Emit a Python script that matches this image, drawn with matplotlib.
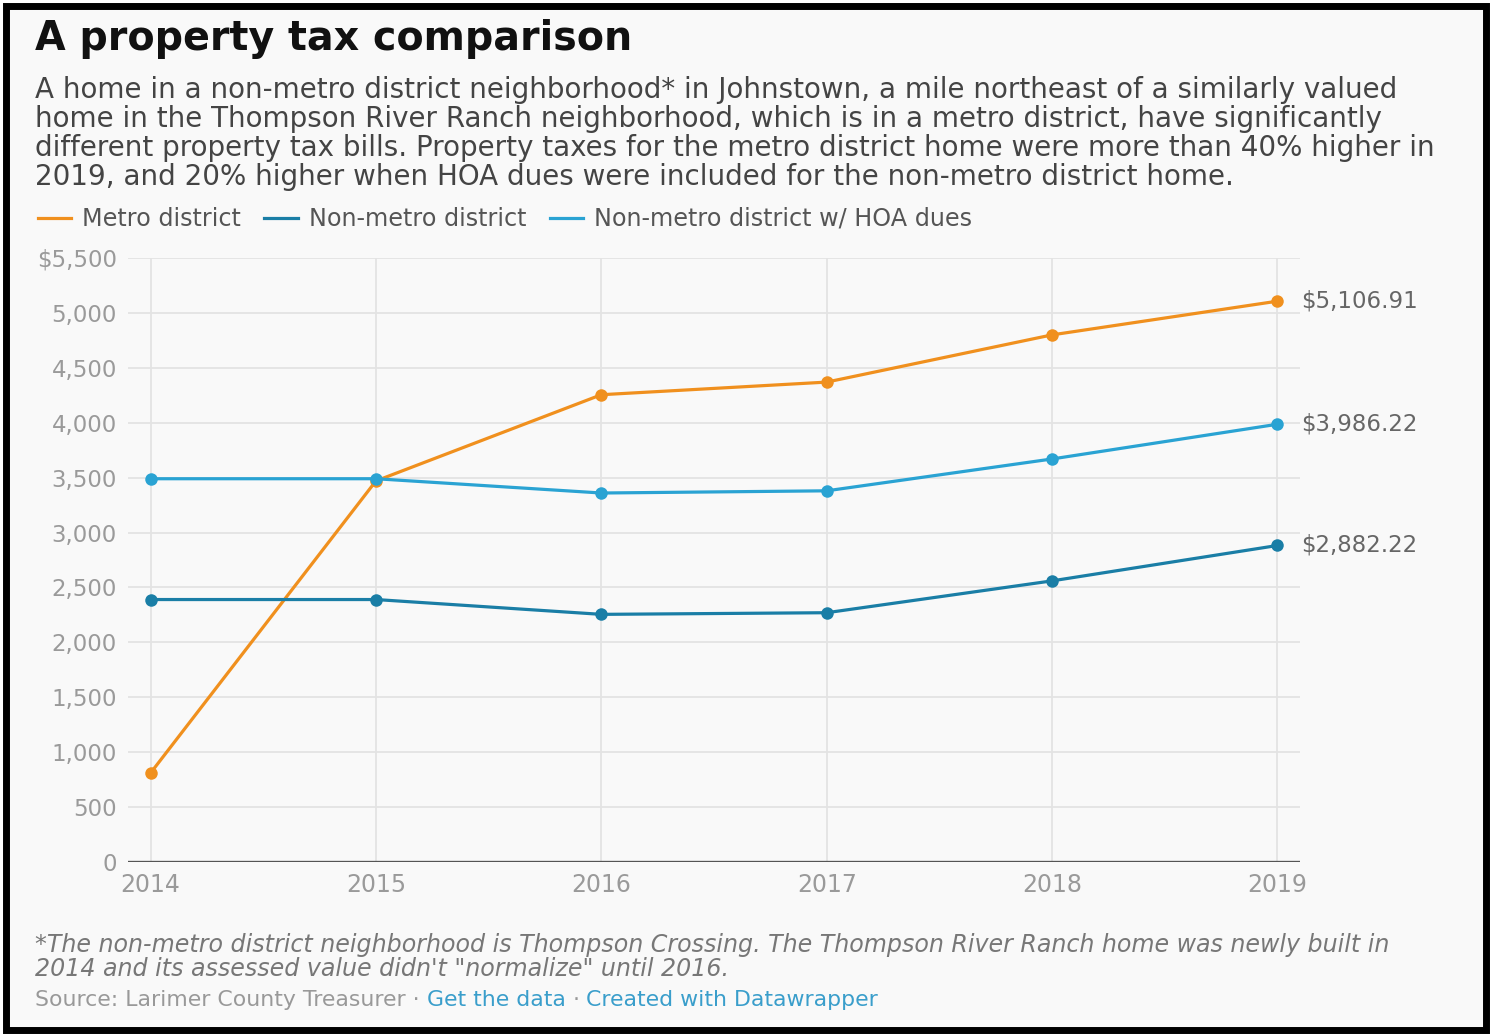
import matplotlib.pyplot as plt
import matplotlib.patches as patches
from matplotlib.lines import Line2D
from matplotlib.ticker import FuncFormatter

# Data
years = [2014, 2015, 2016, 2017, 2018, 2019]
metro = [810, 3470, 4255, 4370, 4800, 5106.91]
non_metro = [2390, 2390, 2255, 2270, 2560, 2882.22]
non_metro_hoa = [3490, 3490, 3360, 3380, 3670, 3986.22]
series_names = ["Metro district", "Non-metro district", "Non-metro district w/ HOA dues"]
y_ticks = [0, 500, 1000, 1500, 2000, 2500, 3000, 3500, 4000, 4500, 5000, 5500]

colors = {'metro': '#f0901e', 'non': '#1a7ea6', 'hoa': '#2aa3d3',
          'bg': '#f9f9f9', 'grid': '#e3e3e3', 'tick': '#9a9a9a',
          'text': '#444444', 'link': '#3a9ecb'}
FONT = 'DejaVu Sans'

fig = plt.figure(figsize=(14.92, 10.34), dpi=100, facecolor='white')

# background panel + thick black frame
fig.patches.append(patches.Rectangle((6 / 1492, 4 / 1034), 1480 / 1492, 1024 / 1034,
                                     transform=fig.transFigure, facecolor=colors['bg'],
                                     edgecolor='black', linewidth=5, zorder=-5))

ax = fig.add_axes([128 / 1492, 1 - 862 / 1034, 1172 / 1492, 604 / 1034])
ax.set_facecolor('none')

series = [(metro, colors['metro']), (non_metro, colors['non']), (non_metro_hoa, colors['hoa'])]
for vals, c in series:
    ax.plot(years, vals, color=c, linewidth=2.3, marker='o', markersize=9,
            markeredgewidth=0, zorder=3, clip_on=False)
    ax.text(years[-1] + 0.105, vals[-1], f"${vals[-1]:,.2f}", ha='left', va='center',
            fontsize=16.5, color='#666666', family=FONT)

ax.set_xlim(2013.9, 2019.1)
ax.set_ylim(0, 5500)
ax.set_xticks(years)
ax.set_yticks(y_ticks)
ax.yaxis.set_major_formatter(FuncFormatter(lambda v, p: f"${v:,.0f}" if v == 5500 else f"{v:,.0f}"))
ax.grid(True, color=colors['grid'], linewidth=1.3, zorder=0)
for s in ax.spines.values():
    s.set_visible(False)
ax.axhline(0, color='#555555', linewidth=2.4, zorder=2)
ax.tick_params(axis='x', length=0, labelsize=17, labelcolor=colors['tick'], pad=8)
ax.tick_params(axis='y', length=0, labelsize=16.5, labelcolor=colors['tick'], pad=8)
for lab in ax.get_xticklabels() + ax.get_yticklabels():
    lab.set_family(FONT)

# title and description
fig.text(35 / 1492, 1 - 39 / 1034, "A property tax comparison", fontsize=28.5, fontweight='bold',
         family=FONT, color='#111111', va='center')
desc = ("A home in a non-metro district neighborhood* in Johnstown, a mile northeast of a similarly valued\n"
        "home in the Thompson River Ranch neighborhood, which is in a metro district, have significantly\n"
        "different property tax bills. Property taxes for the metro district home were more than 40% higher in\n"
        "2019, and 20% higher when HOA dues were included for the non-metro district home.")
fig.text(35 / 1492, 1 - 76 / 1034, desc, fontsize=20, family=FONT, color=colors['text'],
         va='top', linespacing=1.05)

# legend
handles = [Line2D([], [], color=c, linewidth=2.3) for _, c in series]
fig.legend(handles, series_names, loc='center left', bbox_to_anchor=(16 / 1492, 1 - 219 / 1034),
           ncol=3, frameon=False, handlelength=1.4, handletextpad=0.45, columnspacing=1.0,
           prop={'family': FONT, 'size': 17.2}, labelcolor='#555555')

# footnotes
note = ("*The non-metro district neighborhood is Thompson Crossing. The Thompson River Ranch home was newly built in\n"
        "2014 and its assessed value didn't \"normalize\" until 2016.")
fig.text(35 / 1492, 1 - 933 / 1034, note, fontsize=17.1, style='italic', family=FONT,
         color='#777777', va='top', linespacing=1.02)

fs_src = 15.8
src = fig.text(35 / 1492, 1 - 1000 / 1034, "Source: Larimer County Treasurer \u00b7 ", fontsize=fs_src,
               family=FONT, color='#999999', va='center')
fig.canvas.draw()
r = fig.canvas.get_renderer()
x = src.get_window_extent(r).x1
t2 = fig.text(x / 1492, 1 - 1000 / 1034, "Get the data", fontsize=fs_src, family=FONT,
              color=colors['link'], va='center')
x = t2.get_window_extent(r).x1
t3 = fig.text(x / 1492, 1 - 1000 / 1034, " \u00b7 ", fontsize=fs_src, family=FONT,
              color='#999999', va='center')
x = t3.get_window_extent(r).x1
fig.text(x / 1492, 1 - 1000 / 1034, "Created with Datawrapper", fontsize=fs_src, family=FONT,
         color=colors['link'], va='center')

fig.savefig("out.png", dpi=100, facecolor=fig.get_facecolor())
